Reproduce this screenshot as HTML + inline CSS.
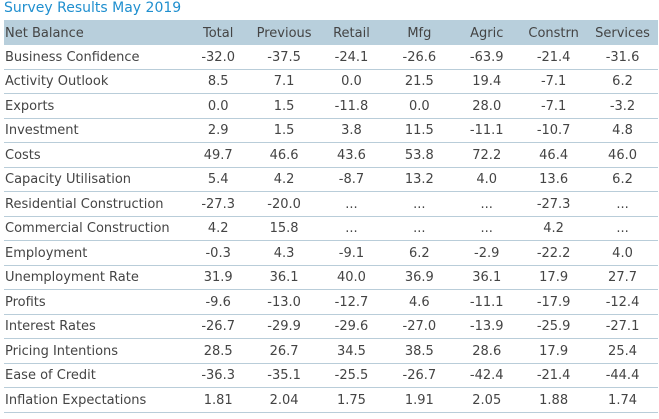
<!DOCTYPE html>
<html><head><meta charset="utf-8"><style>
body{margin:0;width:659px;height:419px;background:#fff;font-family:"DejaVu Sans","Liberation Sans",sans-serif;font-size:13px;color:#444;position:relative;overflow:hidden}
.t{position:absolute;left:4px;top:0px;color:#1f8fcf;font-size:14px;line-height:16px}
.tb{position:absolute;left:4px;top:20px;width:654px}
.r{display:flex;height:24.5px;box-sizing:border-box;border-bottom:1px solid #b9cdd9;align-items:center;padding-top:1px}
.h{height:25px;background:#b8cfdc;border-bottom:none}
.r div{text-align:center;white-space:nowrap}
.r div:nth-child(1){width:181px;text-align:left;padding-left:1px}
.r div:nth-child(2){width:65px}.r div:nth-child(3){width:67px}.r div:nth-child(4){width:68px}
.r div:nth-child(5){width:68px}.r div:nth-child(6){width:67px}.r div:nth-child(7){width:67px}.r div:nth-child(8){width:71px}
</style></head><body>
<div class="t">Survey Results May 2019</div>
<div class="tb">
<div class="r h"><div>Net Balance</div><div>Total</div><div>Previous</div><div>Retail</div><div>Mfg</div><div>Agric</div><div>Constrn</div><div>Services</div></div>
<div class="r"><div>Business Confidence</div><div>-32.0</div><div>-37.5</div><div>-24.1</div><div>-26.6</div><div>-63.9</div><div>-21.4</div><div>-31.6</div></div>
<div class="r"><div>Activity Outlook</div><div>8.5</div><div>7.1</div><div>0.0</div><div>21.5</div><div>19.4</div><div>-7.1</div><div>6.2</div></div>
<div class="r"><div>Exports</div><div>0.0</div><div>1.5</div><div>-11.8</div><div>0.0</div><div>28.0</div><div>-7.1</div><div>-3.2</div></div>
<div class="r"><div>Investment</div><div>2.9</div><div>1.5</div><div>3.8</div><div>11.5</div><div>-11.1</div><div>-10.7</div><div>4.8</div></div>
<div class="r"><div>Costs</div><div>49.7</div><div>46.6</div><div>43.6</div><div>53.8</div><div>72.2</div><div>46.4</div><div>46.0</div></div>
<div class="r"><div>Capacity Utilisation</div><div>5.4</div><div>4.2</div><div>-8.7</div><div>13.2</div><div>4.0</div><div>13.6</div><div>6.2</div></div>
<div class="r"><div>Residential Construction</div><div>-27.3</div><div>-20.0</div><div>...</div><div>...</div><div>...</div><div>-27.3</div><div>...</div></div>
<div class="r"><div>Commercial Construction</div><div>4.2</div><div>15.8</div><div>...</div><div>...</div><div>...</div><div>4.2</div><div>...</div></div>
<div class="r"><div>Employment</div><div>-0.3</div><div>4.3</div><div>-9.1</div><div>6.2</div><div>-2.9</div><div>-22.2</div><div>4.0</div></div>
<div class="r"><div>Unemployment Rate</div><div>31.9</div><div>36.1</div><div>40.0</div><div>36.9</div><div>36.1</div><div>17.9</div><div>27.7</div></div>
<div class="r"><div>Profits</div><div>-9.6</div><div>-13.0</div><div>-12.7</div><div>4.6</div><div>-11.1</div><div>-17.9</div><div>-12.4</div></div>
<div class="r"><div>Interest Rates</div><div>-26.7</div><div>-29.9</div><div>-29.6</div><div>-27.0</div><div>-13.9</div><div>-25.9</div><div>-27.1</div></div>
<div class="r"><div>Pricing Intentions</div><div>28.5</div><div>26.7</div><div>34.5</div><div>38.5</div><div>28.6</div><div>17.9</div><div>25.4</div></div>
<div class="r"><div>Ease of Credit</div><div>-36.3</div><div>-35.1</div><div>-25.5</div><div>-26.7</div><div>-42.4</div><div>-21.4</div><div>-44.4</div></div>
<div class="r"><div>Inflation Expectations</div><div>1.81</div><div>2.04</div><div>1.75</div><div>1.91</div><div>2.05</div><div>1.88</div><div>1.74</div></div>
</div>
</body></html>
